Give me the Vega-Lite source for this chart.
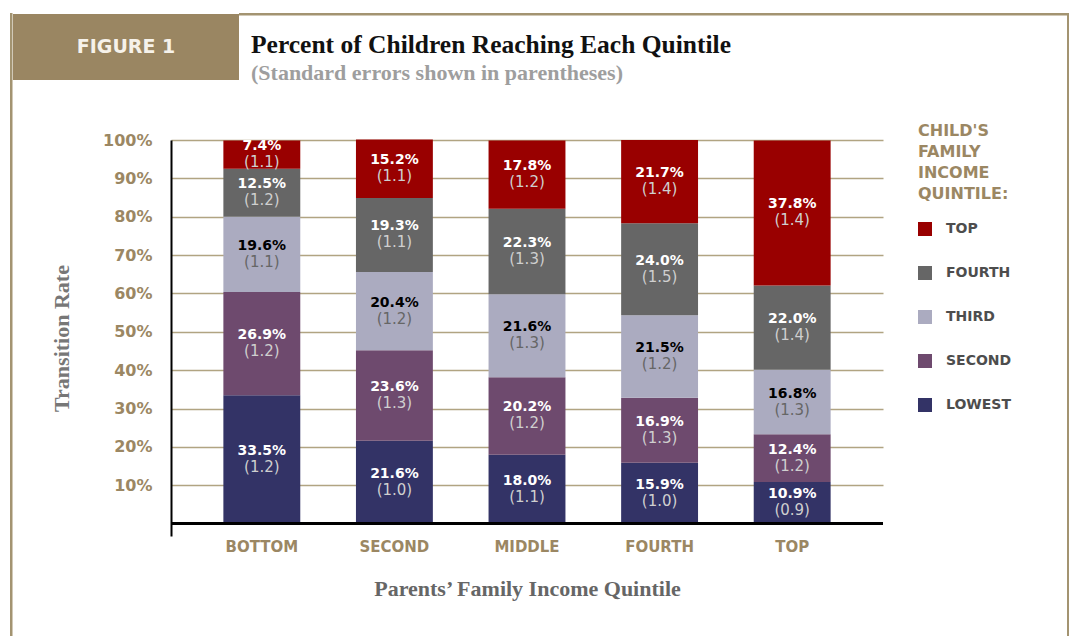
{
  "$schema": "https://vega.github.io/schema/vega-lite/v6.json",
  "padding": {"left": 10, "top": 13, "right": 0, "bottom": 0},
  "background": "white",
  "config": {"view": {"stroke": null}},
  "spacing": 0,
  "resolve": {"legend": {"color": "independent"}},
  "hconcat": [
    {
      "width": 0.5, "height": 622,
      "view": {"stroke": "#a39471", "strokeWidth": 2},
      "data": {"values": []},
      "mark": "text"
    },
    {
      "spacing": 37,
      "resolve": {"legend": {"color": "independent"}},
      "vconcat": [
        {
          "spacing": 0,
          "hconcat": [
            {
              "width": 226, "height": 66,
              "view": {"fill": "#9a8662", "stroke": null},
              "data": {"values": [{}]},
              "mark": {"type": "text", "text": "FIGURE 1", "font": "DejaVu Sans", "fontWeight": "bold", "fontSize": 19, "color": "#f6f2ea", "align": "center", "baseline": "middle"}
            },
            {
              "width": 826, "height": 0.5,
              "view": {"stroke": "#a39471", "strokeWidth": 2},
              "layer": [
                {
                  "data": {"values": [{"t": "Percent of Children Reaching Each Quintile"}]},
                  "mark": {"type": "text", "align": "left", "baseline": "middle", "font": "Liberation Serif", "fontWeight": "bold", "fontSize": 25.5, "color": "#111111", "dx": 11, "dy": 31},
                  "encoding": {
                    "x": {"datum": 0, "type": "quantitative", "scale": {"domain": [0, 1]}, "axis": null},
                    "text": {"field": "t"}
                  }
                },
                {
                  "data": {"values": [{"t": "(Standard errors shown in parentheses)"}]},
                  "mark": {"type": "text", "align": "left", "baseline": "middle", "font": "Liberation Serif", "fontWeight": "bold", "fontSize": 22, "color": "#9e9e9e", "dx": 11, "dy": 59},
                  "encoding": {
                    "x": {"datum": 0, "type": "quantitative", "scale": {"domain": [0, 1]}, "axis": null},
                    "text": {"field": "t"}
                  }
                }
              ]
            }
          ]
        },
        {
          "spacing": 36,
          "resolve": {"legend": {"color": "independent"}},
          "hconcat": [
            {
              "width": 1, "height": 1,
              "data": {"values": []},
              "mark": "text"
            },
            {
              "width": 712, "height": 396,
              "data": {"values": [
                {"parent": "Bottom", "child": "Lowest", "rank": 1, "pct": 33.5, "se": 1.2},
                {"parent": "Bottom", "child": "Second", "rank": 2, "pct": 26.9, "se": 1.2},
                {"parent": "Bottom", "child": "Third", "rank": 3, "pct": 19.6, "se": 1.1},
                {"parent": "Bottom", "child": "Fourth", "rank": 4, "pct": 12.5, "se": 1.2},
                {"parent": "Bottom", "child": "Top", "rank": 5, "pct": 7.4, "se": 1.1},
                {"parent": "Second", "child": "Lowest", "rank": 1, "pct": 21.6, "se": 1.0},
                {"parent": "Second", "child": "Second", "rank": 2, "pct": 23.6, "se": 1.3},
                {"parent": "Second", "child": "Third", "rank": 3, "pct": 20.4, "se": 1.2},
                {"parent": "Second", "child": "Fourth", "rank": 4, "pct": 19.3, "se": 1.1},
                {"parent": "Second", "child": "Top", "rank": 5, "pct": 15.2, "se": 1.1},
                {"parent": "Middle", "child": "Lowest", "rank": 1, "pct": 18.0, "se": 1.1},
                {"parent": "Middle", "child": "Second", "rank": 2, "pct": 20.2, "se": 1.2},
                {"parent": "Middle", "child": "Third", "rank": 3, "pct": 21.6, "se": 1.3},
                {"parent": "Middle", "child": "Fourth", "rank": 4, "pct": 22.3, "se": 1.3},
                {"parent": "Middle", "child": "Top", "rank": 5, "pct": 17.8, "se": 1.2},
                {"parent": "Fourth", "child": "Lowest", "rank": 1, "pct": 15.9, "se": 1.0},
                {"parent": "Fourth", "child": "Second", "rank": 2, "pct": 16.9, "se": 1.3},
                {"parent": "Fourth", "child": "Third", "rank": 3, "pct": 21.5, "se": 1.2},
                {"parent": "Fourth", "child": "Fourth", "rank": 4, "pct": 24.0, "se": 1.5},
                {"parent": "Fourth", "child": "Top", "rank": 5, "pct": 21.7, "se": 1.4},
                {"parent": "Top", "child": "Lowest", "rank": 1, "pct": 10.9, "se": 0.9},
                {"parent": "Top", "child": "Second", "rank": 2, "pct": 12.4, "se": 1.2},
                {"parent": "Top", "child": "Third", "rank": 3, "pct": 16.8, "se": 1.3},
                {"parent": "Top", "child": "Fourth", "rank": 4, "pct": 22.0, "se": 1.4},
                {"parent": "Top", "child": "Top", "rank": 5, "pct": 37.8, "se": 1.4}
              ]},
              "layer": [
                {
                  "mark": {"type": "bar"},
                  "encoding": {
                    "x": {
                      "field": "parent", "type": "nominal",
                      "sort": ["Bottom", "Second", "Middle", "Fourth", "Top"],
                      "scale": {"paddingInner": 0.42, "paddingOuter": 0.395},
                      "axis": {
                        "title": "Parents’ Family Income Quintile",
                        "labelExpr": "upper(datum.label)",
                        "domain": false, "ticks": false, "labelAngle": 0, "labelPadding": 3,
                        "labelFont": "DejaVu Sans", "labelFontWeight": "bold", "labelFontSize": 15, "labelColor": "#9b8763",
                        "titleFont": "Liberation Serif", "titleFontSize": 22, "titleFontWeight": "bold", "titleColor": "#666666", "titlePadding": 24
                      }
                    },
                    "y": {
                      "field": "pct", "type": "quantitative", "stack": "zero",
                      "scale": {"domain": [-3.2, 100], "nice": false, "zero": false},
                      "axis": {
                        "values": [10, 20, 30, 40, 50, 60, 70, 80, 90, 100],
                        "labelExpr": "datum.value + '%'",
                        "title": "Transition Rate",
                        "grid": true, "gridColor": "#b1a482", "gridWidth": 1.5,
                        "domainColor": "#000000", "domainWidth": 2, "ticks": false,
                        "labelPadding": 19,
                        "labelFont": "DejaVu Sans", "labelFontWeight": "bold", "labelFontSize": 16, "labelColor": "#9b8763",
                        "titleFont": "Liberation Serif", "titleFontSize": 22, "titleFontWeight": "bold", "titleColor": "#777777", "titlePadding": 29
                      }
                    },
                    "color": {
                      "field": "child", "type": "nominal",
                      "scale": {
                        "domain": ["Top", "Fourth", "Third", "Second", "Lowest"],
                        "range": ["#990000", "#666666", "#ababc0", "#6e4a6e", "#333366"]
                      },
                      "legend": {
                        "orient": "none", "legendX": 747, "legendY": -17,
                        "title": ["CHILD'S", "FAMILY", "INCOME", "QUINTILE:"],
                        "titleFont": "DejaVu Sans", "titleFontSize": 16, "titleFontWeight": "bold", "titleColor": "#9b8763",
                        "titleLineHeight": 21, "titlePadding": 20,
                        "symbolType": "square", "symbolSize": 196, "symbolStrokeWidth": 0,
                        "labelFont": "DejaVu Sans", "labelFontSize": 14, "labelFontWeight": "bold", "labelColor": "#4d4d4d",
                        "labelOffset": 14, "rowPadding": 30,
                        "labelExpr": "upper(datum.label)"
                      }
                    },
                    "order": {"field": "rank", "type": "quantitative"}
                  }
                },
                {
                  "mark": {"type": "rule", "color": "#000000", "strokeWidth": 2.5},
                  "encoding": {"y": {"datum": 0, "type": "quantitative"}}
                },
                {
                  "mark": {"type": "text", "baseline": "middle", "align": "center", "font": "DejaVu Sans", "fontWeight": "bold", "fontSize": 14, "dy": -8.5, "text": {"expr": "format(datum.pct, '.1f') + '%'"}},
                  "encoding": {
                    "x": {"field": "parent", "type": "nominal", "sort": ["Bottom", "Second", "Middle", "Fourth", "Top"]},
                    "y": {"field": "pct", "type": "quantitative", "stack": "zero", "bandPosition": 0.5},
                    "detail": {"field": "child"},
                    "order": {"field": "rank", "type": "quantitative"},
                    "color": {"condition": {"test": "datum.child === 'Third'", "value": "#000000"}, "value": "#ffffff"}
                  }
                },
                {
                  "mark": {"type": "text", "baseline": "middle", "align": "center", "font": "DejaVu Sans", "fontSize": 15, "dy": 7.5, "text": {"expr": "'(' + format(datum.se, '.1f') + ')'"}},
                  "encoding": {
                    "x": {"field": "parent", "type": "nominal", "sort": ["Bottom", "Second", "Middle", "Fourth", "Top"]},
                    "y": {"field": "pct", "type": "quantitative", "stack": "zero", "bandPosition": 0.5},
                    "detail": {"field": "child"},
                    "order": {"field": "rank", "type": "quantitative"},
                    "color": {"condition": {"test": "datum.child === 'Third'", "value": "#666666"}, "value": "#cfcfcf"}
                  }
                }
              ]
            }
          ]
        }
      ]
    },
    {
      "width": 0.5, "height": 622,
      "view": {"stroke": "#a39471", "strokeWidth": 2},
      "data": {"values": []},
      "mark": "text"
    }
  ]
}
